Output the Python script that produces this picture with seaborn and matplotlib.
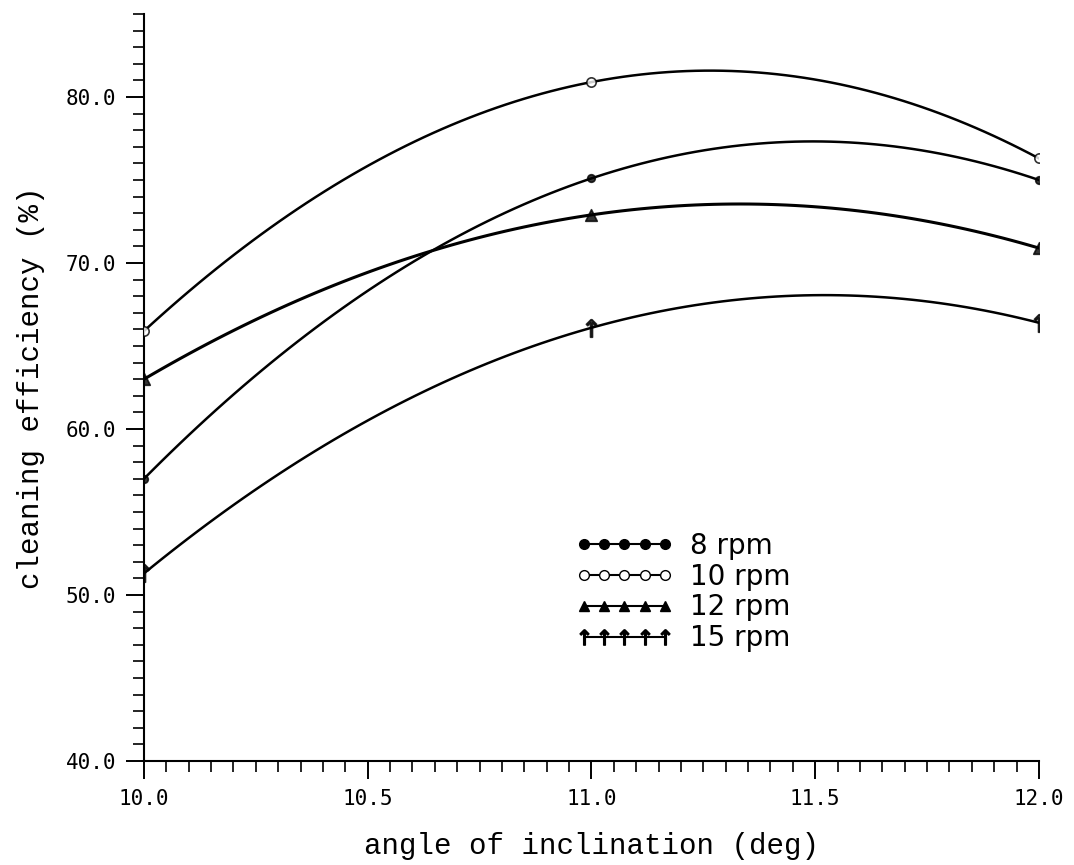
import numpy as np
import pandas as pd
import matplotlib
matplotlib.use("Agg")
import matplotlib.pyplot as plt
from matplotlib.lines import Line2D
from matplotlib.ticker import MultipleLocator, FormatStrFormatter
import seaborn as sns

# ---- data ----
angle = [10.0, 11.0, 12.0]
eff_8rpm = [57.0, 75.1, 75.0]
eff_10rpm = [65.9, 80.9, 76.3]
eff_12rpm = [63.0, 72.9, 70.9]
eff_15rpm = [51.3, 66.1, 66.4]
series_labels = ["8 rpm", "10 rpm", "12 rpm", "15 rpm"]

sns.set_theme(style="white")
plt.rcParams["font.family"] = ["DejaVu Sans Mono", "DejaVu Sans"]

fig = plt.figure(figsize=(10.74, 8.65), dpi=100)
ax = fig.add_axes([0.134, 0.1202, 0.8334, 0.8636])

styles = [
    dict(marker="o", s=30, fc="black", lw=1.8),
    dict(marker="o", s=45, fc="white", lw=1.8),
    dict(marker="^", s=70, fc="black", lw=2.2),
    dict(marker="$\u2191$", s=160, fc="black", lw=1.8),
]
all_series = [eff_8rpm, eff_10rpm, eff_12rpm, eff_15rpm]

handles = []
for vals, st, lab in zip(all_series, styles, series_labels):
    df = pd.DataFrame({"angle": angle, "eff": vals})
    sns.regplot(data=df, x="angle", y="eff", order=2, ci=None, ax=ax,
                marker=st["marker"], truncate=True,
                scatter_kws=dict(s=st["s"], facecolors=st["fc"],
                                 edgecolors="black", color="black",
                                 linewidths=1.2, zorder=3),
                line_kws=dict(color="black", lw=st["lw"]))
    handles.append(Line2D([], [], color="black", lw=1.5, marker=st["marker"],
                          markersize=7 if st["marker"] != "$\u2191$" else 11,
                          markerfacecolor=st["fc"], markeredgecolor="black"))

ax.set_xlim(10.0, 12.0)
ax.set_ylim(40.0, 85.0)
ax.xaxis.set_major_locator(MultipleLocator(0.5))
ax.xaxis.set_minor_locator(MultipleLocator(0.05))
ax.yaxis.set_major_locator(MultipleLocator(10))
ax.yaxis.set_minor_locator(MultipleLocator(1))
ax.xaxis.set_major_formatter(FormatStrFormatter("%.1f"))
ax.yaxis.set_major_formatter(FormatStrFormatter("%.1f"))

for side in ["top", "right"]:
    ax.spines[side].set_visible(False)
for side in ["left", "bottom"]:
    ax.spines[side].set_color("black")
    ax.spines[side].set_linewidth(1.5)

ax.tick_params(axis="both", which="major", direction="out", length=13, width=1.4,
               color="black", labelsize=15, labelcolor="black", pad=7,
               left=True, bottom=True)
ax.tick_params(axis="both", which="minor", direction="out", length=8, width=1.2,
               color="black", left=True, bottom=True)

ax.set_xlabel("angle of inclination (deg)", fontsize=21, family="Liberation Mono",
              color="black")
ax.set_ylabel("cleaning efficiency (%)", fontsize=21, family="Liberation Mono",
              color="black")
ax.xaxis.set_label_coords(0.5, -0.095)
ax.yaxis.set_label_coords(-0.11, 0.5)

leg = ax.legend(handles, series_labels, loc="upper left",
                bbox_to_anchor=(10.965, 53.8), bbox_transform=ax.transData,
                frameon=False, numpoints=5, handlelength=3.5, handletextpad=0.6,
                labelspacing=0.1, borderpad=0, borderaxespad=0,
                prop=dict(family="DejaVu Sans", size=20))
for t in leg.get_texts():
    t.set_color("black")

fig.savefig("out.png", dpi=100, facecolor="white")
